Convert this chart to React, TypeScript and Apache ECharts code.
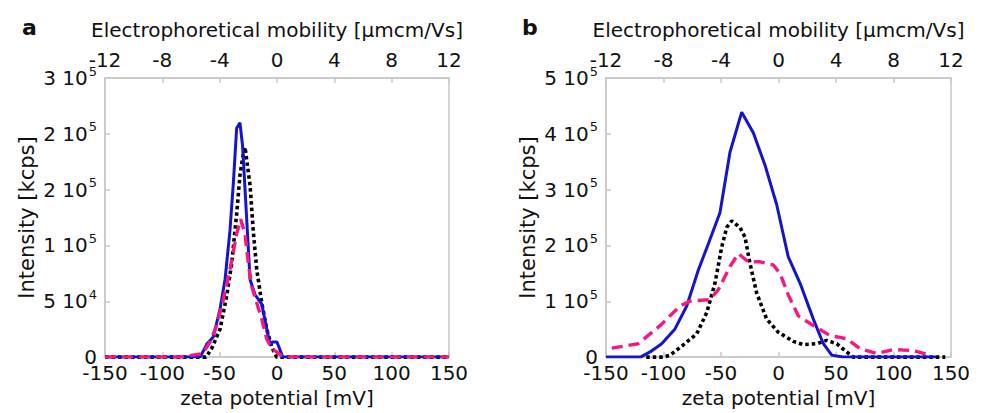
import React, { useEffect, useRef } from "react";
import * as echarts from "echarts";

// ---------- data ----------
const zetaTicks = [-150, 150, 50];
const mobilityTicks = [-12, 12, 4];

const aYBase = ["0", "5 10", "1 10", "2 10", "2 10", "3 10"];
const aYExp = ["", "4", "5", "5", "5", "5"];
const bYBase = ["0", "1 10", "2 10", "3 10", "4 10", "5 10"];
const bYExp = ["", "5", "5", "5", "5", "5"];

const aBlue = [[-150,0],[-67,0],[-61,12000],[-55.6,18000],[-49.7,43000],[-45.3,69500],[-41,113500],[-38,157000],[-35.2,205000],[-32.3,210000],[-30,189000],[-27,134000],[-23.5,69500],[-19.2,56000],[-13.3,47500],[-9,25500],[-6,11000],[-4,13500],[0,13500],[5,0],[150,0]];
const aBlack = [[-150,0],[-62,0],[-57,7600],[-49.7,25000],[-43.9,54600],[-39.5,84000],[-35.2,128000],[-32.3,163000],[-29.4,182000],[-27.9,188000],[-23.5,154000],[-20.7,113000],[-17.7,78600],[-13.3,48700],[-9,25200],[-4.6,9100],[-0.3,0],[150,0]];
const aPink = [[-150,0],[-85,0],[-75,1500],[-65,3000],[-58.4,13500],[-52.6,28200],[-46.8,51600],[-41,78600],[-35.2,110300],[-31.7,123500],[-27.9,110300],[-25,84000],[-22.1,63400],[-17.7,48700],[-13.3,34000],[-9,16400],[-4.6,7600],[-0.3,4700],[5.5,0],[150,0]];

const bBlue = [[-150,0],[-120,0],[-111.7,9300],[-101.6,24000],[-90,50500],[-79.8,91500],[-69.7,156000],[-61,203000],[-50.9,258700],[-42.2,367000],[-32,438800],[-21.9,402000],[-11.7,343700],[-1.6,273400],[8.5,179500],[18.7,132600],[30.3,68000],[39,24000],[46.3,3500],[56,0],[137,0]];
const bBlack = [[-115,0],[-100,0],[-94.3,3500],[-82.8,21700],[-71.1,41700],[-62.4,79800],[-55.2,132600],[-49.4,197000],[-45,232300],[-40.7,244000],[-33.5,232000],[-29.1,214700],[-24.8,167800],[-19,115000],[-10.3,68000],[-0.2,44600],[12.9,28200],[21.6,22300],[33.2,24000],[41.9,30000],[50.6,24000],[59.3,9300],[65,0],[145,0]];
const bPink = [[-145,16000],[-122,24000],[-103,56300],[-85.7,91500],[-77,100300],[-59.6,103000],[-52.3,121000],[-42.2,162000],[-34.9,185400],[-26.2,170700],[-16.1,170700],[-4.5,165000],[1.3,150200],[8.5,111500],[17.2,73900],[30.3,56300],[44.8,38700],[59.3,32900],[70.9,15300],[85.4,6500],[99.8,13500],[117.2,11700],[131.7,3500]];

const panelLetters = ["a", "b"];
const topTitle = "Electrophoretical mobility [μmcm/Vs]";
const bottomTitle = "zeta potential [mV]";
const yTitle = "Intensity [kcps]";

// ---------- styles ----------
const FONT = "'DejaVu Sans', 'Liberation Sans', Arial, sans-serif";
const AXIS_GRAY = "#c8c8c8";
const BLUE = "#1414cc";
const PINK = "#f5197f";

export default function App() {
  const ref = useRef<HTMLDivElement>(null);
  useEffect(() => {
    if (!ref.current) return;
    const chart = echarts.init(ref.current, null, { renderer: "svg" });

    const grids = [
      { left: 105, top: 78, width: 344, height: 284 },
      { left: 606, top: 78, width: 345, height: 284 },
    ];
    const yMax = [250000, 500000];
    const yInt = [50000, 100000];
    const yBase = [aYBase, bYBase];
    const yExp = [aYExp, bYExp];

    const axisLine = { show: true, onZero: false, lineStyle: { color: AXIS_GRAY, width: 1.5 } };
    const axisTick = { show: true, inside: true, length: 5, lineStyle: { color: AXIS_GRAY, width: 1.5 } };
    const tickLabel = { color: "#111", fontFamily: FONT, fontSize: 20 };
    const nameStyle = { color: "#111", fontFamily: FONT, fontSize: 20 };

    const xAxis: any[] = [];
    const yAxis: any[] = [];
    grids.forEach((_, i) => {
      xAxis.push({
        type: "value", gridIndex: i, position: "bottom",
        min: zetaTicks[0], max: zetaTicks[1], interval: zetaTicks[2],
        axisLine, axisTick, splitLine: { show: false },
        axisLabel: { ...tickLabel, margin: 6 },
        name: bottomTitle, nameLocation: "middle", nameGap: 27,
        nameTextStyle: nameStyle,
      });
      xAxis.push({
        type: "value", gridIndex: i, position: "top",
        min: mobilityTicks[0], max: mobilityTicks[1], interval: mobilityTicks[2],
        axisLine, axisTick, splitLine: { show: false },
        axisLabel: { ...tickLabel, margin: 8 },
        name: topTitle, nameLocation: "middle", nameGap: 38,
        nameTextStyle: nameStyle,
      });
      yAxis.push({
        type: "value", gridIndex: i, min: 0, max: yMax[i], interval: yInt[i],
        axisLine, axisTick, splitLine: { show: false },
        axisLabel: {
          margin: 8,
          formatter: (v: number) => {
            const k = Math.round(v / yInt[i]);
            const e = yExp[i][k];
            return e ? `{n|${yBase[i][k]}}{s|${e}}` : `{n|${yBase[i][k]}}`;
          },
          rich: {
            n: { color: "#111", fontFamily: FONT, fontSize: 20 },
            s: { color: "#111", fontFamily: FONT, fontSize: 13, padding: [0, 0, 14, 1] },
          },
        },
        name: yTitle, nameLocation: "middle", nameGap: 68, nameRotate: 90,
        nameTextStyle: { ...nameStyle, fontSize: 21 },
      });
    });

    const mk = (data: number[][], grid: number, kind: string) => {
      const style: any =
        kind === "blue" ? { color: BLUE, width: 3, type: "solid" } :
        kind === "pink" ? { color: PINK, width: 3.4, type: [11, 6] } :
        { color: "#000", width: 3.6, type: [3.5, 3] };
      return {
        type: "line", xAxisIndex: grid * 2, yAxisIndex: grid, data,
        showSymbol: false, symbol: "none", lineStyle: style,
        itemStyle: { color: style.color }, z: 2,
      };
    };

    chart.setOption({
      animation: false,
      grid: grids.map((g) => ({ ...g, show: true, borderColor: AXIS_GRAY, borderWidth: 1.5, backgroundColor: "transparent" })),
      xAxis,
      yAxis,
      series: [
        mk(aBlack, 0, "black"), mk(aBlue, 0, "blue"), mk(aPink, 0, "pink"),
        mk(bBlack, 1, "black"), mk(bBlue, 1, "blue"), mk(bPink, 1, "pink"),
      ],
      graphic: [
        { type: "text", left: 22, top: 16, style: { text: panelLetters[0], font: `bold 22px ${FONT}`, fill: "#111" } },
        { type: "text", left: 522, top: 16, style: { text: panelLetters[1], font: `bold 22px ${FONT}`, fill: "#111" } },
      ],
    });
    return () => chart.dispose();
  }, []);
  return <div ref={ref} style={{ position: "fixed", left: 0, top: 0, width: 984, height: 413, background: "#fff" }} />;
}
